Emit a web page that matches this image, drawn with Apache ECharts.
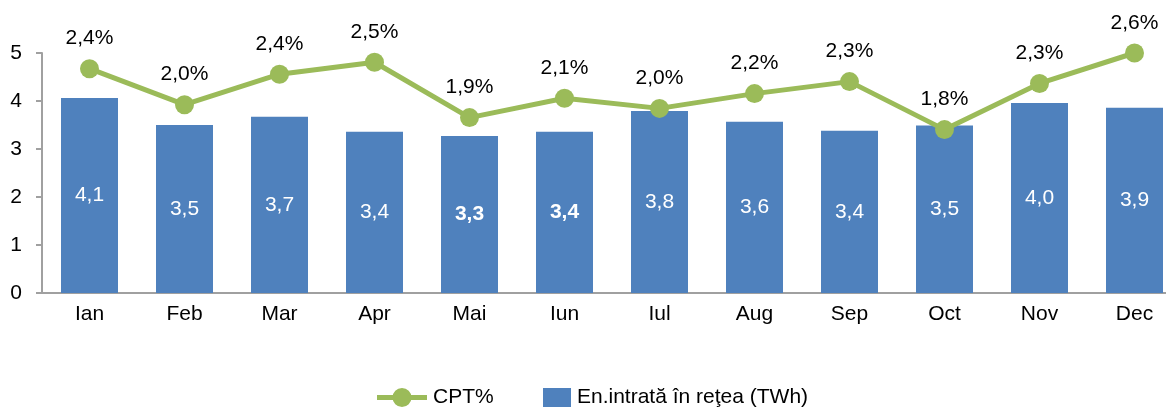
<!DOCTYPE html>
<html style="height: 100%">
<head>
    <meta charset="utf-8">
</head>
<body style="height: 100%; margin: 0; background: #fff">
<div id="container" style="width: 1166px; height: 407px"></div>
<script type="text/javascript" src="https://cdn.jsdelivr.net/npm/echarts@6/dist/echarts.min.js"></script>
<script type="text/javascript">
    var months = ['Ian', 'Feb', 'Mar', 'Apr', 'Mai', 'Iun', 'Iul', 'Aug', 'Sep', 'Oct', 'Nov', 'Dec'];
    // energie intrata in retea (TWh)
    var energyValues = [4.06, 3.5, 3.67, 3.36, 3.27, 3.36, 3.79, 3.57, 3.38, 3.49, 3.96, 3.86];
    // CPT %
    var cptValues = [2.43, 2.04, 2.37, 2.50, 1.90, 2.11, 2.00, 2.16, 2.29, 1.77, 2.27, 2.60];
    var boldMonths = ['Mai', 'Iun'];
    var yTicks = [0, 1, 2, 3, 4, 5];

    var FONT = '"Liberation Sans", Arial, sans-serif';
    var FS = 21;
    var fmt = function (v) { return v.toFixed(1).replace('.', ','); };

    var dom = document.getElementById("container");
    var myChart = echarts.init(dom, null, {renderer: 'canvas'});

    var barData = energyValues.map(function (v, i) {
        var item = {value: v};
        if (boldMonths.indexOf(months[i]) >= 0) {
            item.label = {fontWeight: 'bold'};
        }
        return item;
    });

    // line + dot icon for the CPT legend entry
    var lineDotIcon = 'path://M0,7H50V12H0Z M15.5,9.5A9.5,9.5 0 1 1 34.5,9.5A9.5,9.5 0 1 1 15.5,9.5Z';

    var option = {
        animation: false,
        textStyle: {fontFamily: FONT},
        // plot runs past the right edge of the picture, as in the original
        grid: {left: 42, width: 1140, top: 53, bottom: 114, containLabel: false, outerBoundsMode: 'none'},
        legend: [{
            data: [{name: 'CPT%', icon: lineDotIcon}],
            left: 372, top: 382,
            itemWidth: 50, itemHeight: 19,
            itemStyle: {color: '#9bbb59'},
            textStyle: {fontSize: FS, color: '#000', fontFamily: FONT, padding: [0, 0, 0, 1]}
        }, {
            data: ['En.intrată în reţea (TWh)'],
            left: 538, top: 382,
            itemWidth: 28, itemHeight: 19,
            icon: 'rect',
            textStyle: {fontSize: FS, color: '#000', fontFamily: FONT, padding: [0, 0, 0, 1]}
        }],
        xAxis: {
            type: 'category',
            data: months,
            axisLine: {lineStyle: {color: '#a0a0a0', width: 2}},
            axisTick: {show: false},
            axisLabel: {fontSize: FS, color: '#000', margin: 11, fontFamily: FONT}
        },
        yAxis: [{
            type: 'value',
            min: yTicks[0], max: yTicks[yTicks.length - 1], interval: 1,
            axisLine: {show: true, lineStyle: {color: '#a0a0a0', width: 2}},
            axisTick: {show: true, length: 6, lineStyle: {color: '#a0a0a0', width: 2}},
            splitLine: {show: false},
            axisLabel: {fontSize: FS, color: '#000', margin: 20, fontFamily: FONT}
        }, {
            type: 'value',
            min: 0, max: 2.6,
            show: false,
            splitLine: {show: false}
        }],
        series: [{
            name: 'En.intrată în reţea (TWh)',
            type: 'bar',
            data: barData,
            barWidth: '60%',
            itemStyle: {color: '#4f81bd'},
            label: {
                show: true, position: 'inside', color: '#fff', fontSize: FS, fontFamily: FONT,
                formatter: function (p) { return fmt(p.value); }
            },
            z: 1
        }, {
            name: 'CPT%',
            type: 'line',
            yAxisIndex: 1,
            data: cptValues,
            clip: false,
            symbol: 'circle',
            symbolSize: 19,
            lineStyle: {color: '#9bbb59', width: 5},
            itemStyle: {color: '#9bbb59'},
            label: {
                show: true, position: 'top', distance: 10, color: '#000', fontSize: FS, fontFamily: FONT,
                formatter: function (p) { return fmt(p.value) + '%'; }
            },
            z: 3
        }]
    };

    if (option && typeof option === "object") {
        myChart.setOption(option, true);
    }
</script>
</body>
</html>
